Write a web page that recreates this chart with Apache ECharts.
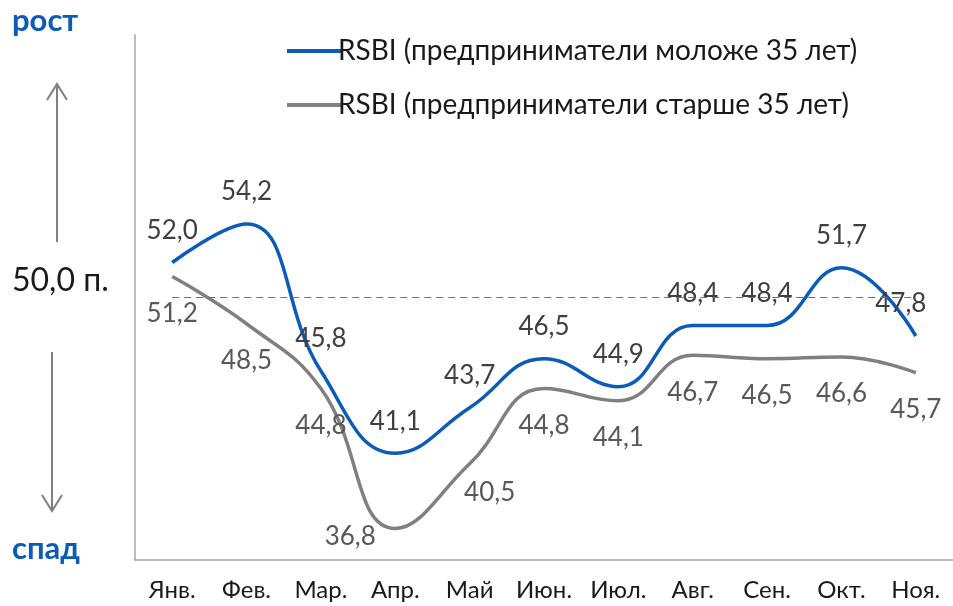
<!DOCTYPE html>
<html lang="ru">
<head>
    <meta charset="UTF-8">
    <title>RSBI</title>
    <script src="https://cdn.jsdelivr.net/npm/echarts@6/dist/echarts.min.js"></script>
    <style>
        html, body { margin: 0; padding: 0; background: #fff; }
        #chart { width: 953px; height: 606px; }
    </style>
</head>
<body>
<div id="chart"></div>
<script type="text/javascript">
    // данные
    var months = ['Янв.', 'Фев.', 'Мар.', 'Апр.', 'Май', 'Июн.', 'Июл.', 'Авг.', 'Сен.', 'Окт.', 'Ноя.'];
    var younger = [52.0, 54.2, 45.8, 41.1, 43.7, 46.5, 44.9, 48.4, 48.4, 51.7, 47.8];
    var older = [51.2, 48.5, 44.8, 36.8, 40.5, 44.8, 44.1, 46.7, 46.5, 46.6, 45.7];
    var names = ['RSBI (предприниматели моложе 35 лет)', 'RSBI (предприниматели старше 35 лет)'];
    var baseLevel = 50;

    var FONT = 'Lato';
    var BLUE = '#0b5cb8';
    var GREY = '#808080';

    function fmt(v) {
        return v.toFixed(1).replace('.', ',');
    }

    // отдельные сдвиги подписей (как в исходнике)
    var olderOffsets = { 3: [-45, -29], 4: [20, -8] };
    var youngerOffsets = { 10: [-15, 0] };

    function buildData(values, offsets) {
        return values.map(function (v, i) {
            var item = { value: v };
            if (offsets[i]) item.label = { offset: offsets[i] };
            return item;
        });
    }

    var option = {
        animation: false,
        textStyle: { fontFamily: FONT },
        legend: {
            orient: 'vertical',
            left: 282,
            top: 32,
            icon: 'rect',
            itemWidth: 55,
            itemHeight: 4,
            itemGap: 26,
            textStyle: { fontSize: 28, color: '#1a1a1a', fontFamily: FONT, padding: [0, 0, 0, -9] },
            data: names
        },
        grid: { left: 135, top: 35, width: 822, height: 525 },
        xAxis: {
            type: 'category',
            data: months,
            axisLine: { lineStyle: { color: '#a6a6a6', width: 1.5 } },
            axisTick: { show: false },
            axisLabel: { interval: 0, fontSize: 24, color: '#1a1a1a', margin: 18, fontFamily: FONT }
        },
        yAxis: {
            type: 'value',
            min: 35,
            max: 65,
            axisLine: { show: true, lineStyle: { color: '#a6a6a6', width: 1.5 } },
            axisTick: { show: false },
            axisLabel: { show: false },
            splitLine: { show: false }
        },
        graphic: [
            { type: 'text', left: 12, top: 5, style: { text: 'рост', font: 'bold 31px ' + FONT, fill: BLUE } },
            { type: 'text', left: 12, top: 533, style: { text: 'спад', font: 'bold 31px ' + FONT, fill: BLUE } },
            { type: 'text', left: 12, top: 265, style: { text: '50,0 п.', font: '32px ' + FONT, fill: '#1a1a1a' } },
            { type: 'line', shape: { x1: 57, y1: 84, x2: 57, y2: 242 }, style: { stroke: GREY, lineWidth: 2 } },
            { type: 'polyline', shape: { points: [[47, 100], [57, 84], [67, 100]] }, style: { stroke: GREY, lineWidth: 2, fill: null } },
            { type: 'line', shape: { x1: 52, y1: 352, x2: 52, y2: 511 }, style: { stroke: GREY, lineWidth: 2 } },
            { type: 'polyline', shape: { points: [[42, 495], [52, 511], [62, 495]] }, style: { stroke: GREY, lineWidth: 2, fill: null } }
        ],
        series: [
            {
                name: names[0],
                type: 'line',
                smooth: 0.45,
                symbol: 'circle',
                symbolSize: 0.01,
                showAllSymbol: true,
                z: 3,
                lineStyle: { color: BLUE, width: 3.5 },
                itemStyle: { color: BLUE },
                label: {
                    show: true,
                    position: 'top',
                    distance: 19,
                    fontSize: 26,
                    color: '#404040',
                    fontFamily: FONT,
                    formatter: function (p) { return fmt(p.value); }
                },
                data: buildData(younger, youngerOffsets),
                markLine: {
                    silent: true,
                    symbol: 'none',
                    label: { show: false },
                    lineStyle: { color: '#707070', type: [7, 5], width: 1.2 },
                    data: [[{ coord: [0, baseLevel] }, { coord: [months.length - 1, baseLevel] }]]
                }
            },
            {
                name: names[1],
                type: 'line',
                smooth: 0.45,
                symbol: 'circle',
                symbolSize: 0.01,
                showAllSymbol: true,
                z: 2,
                lineStyle: { color: GREY, width: 3.5 },
                itemStyle: { color: GREY },
                label: {
                    show: true,
                    position: 'bottom',
                    distance: 24,
                    fontSize: 26,
                    color: '#595959',
                    fontFamily: FONT,
                    formatter: function (p) { return fmt(p.value); }
                },
                data: buildData(older, olderOffsets)
            }
        ]
    };

    var myChart = echarts.init(document.getElementById('chart'));
    myChart.setOption(option);
</script>
</body>
</html>
